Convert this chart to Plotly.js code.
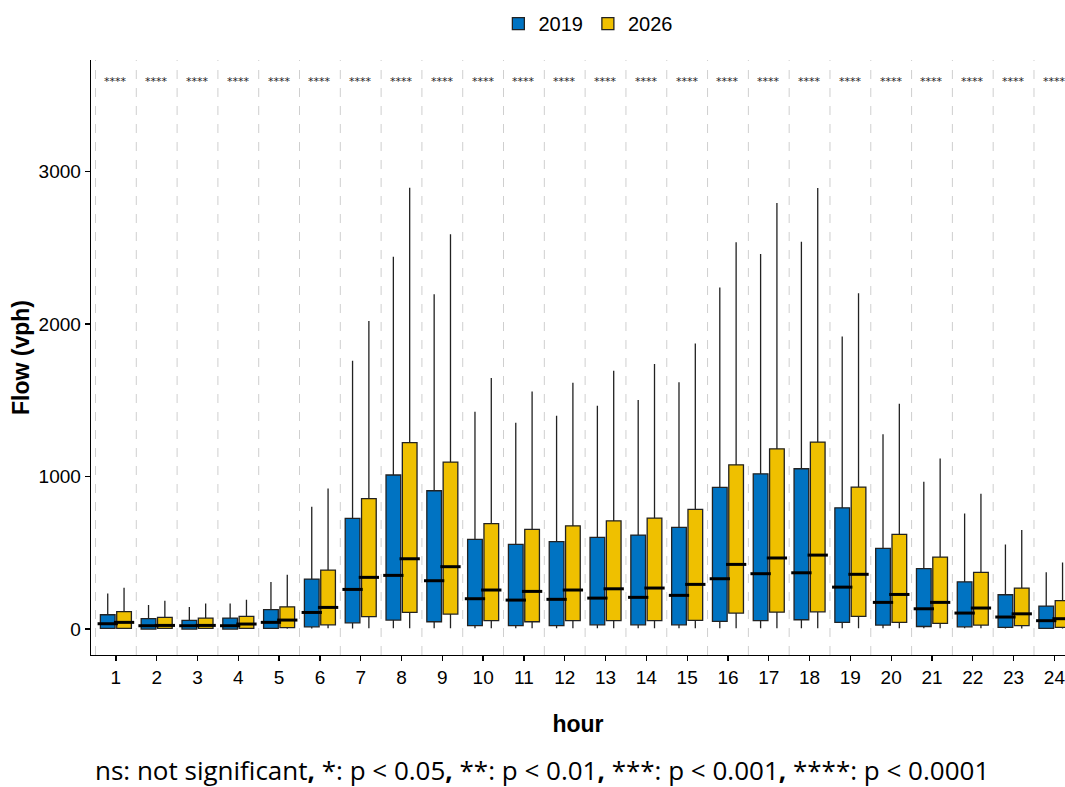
<!DOCTYPE html>
<html>
<head>
<meta charset="utf-8">
<script src="https://cdn.plot.ly/plotly-3.0.1.min.js"></script>
<style>html,body{margin:0;padding:0;background:#fff;}#chart{width:1065px;height:787px;}</style>
</head>
<body>
<div id="chart"></div>
<script>
// Categories
const hours = ["1","2","3","4","5","6","7","8","9","10","11","12","13","14","15","16","17","18","19","20","21","22","23","24"];

// 2019 box statistics (vph)
const q1_2019     = [5, 0, 0, 0, 5, 15, 41, 59, 48, 22, 22, 22, 28, 28, 28, 50, 55, 61, 44, 26, 17, 15, 11, 5];
const med_2019    = [35, 22, 22, 22, 44, 109, 260, 352, 317, 199, 190, 195, 203, 208, 221, 330, 363, 369, 275, 175, 133, 105, 79, 55];
const q3_2019     = [94, 68, 57, 72, 127, 328, 726, 1010, 907, 588, 555, 573, 601, 616, 667, 929, 1018, 1051, 795, 529, 396, 310, 225, 151];
const lo_2019     = [0, 0, 0, 0, 0, 3, 4, 5, 5, 5, 5, 5, 5, 5, 5, 5, 5, 5, 5, 5, 5, 5, 3, 2];
const hi_2019     = [234, 157, 144, 168, 308, 802, 1759, 2441, 2195, 1425, 1353, 1399, 1464, 1502, 1618, 2240, 2459, 2540, 1919, 1277, 966, 758, 555, 372];

// 2026 box statistics (vph)
const q1_2026     = [5, 5, 5, 5, 10, 28, 81, 109, 98, 55, 48, 55, 55, 55, 57, 105, 111, 113, 83, 44, 37, 26, 22, 11];
const med_2026    = [44, 24, 24, 33, 59, 142, 339, 461, 409, 256, 247, 256, 264, 269, 293, 424, 466, 485, 359, 227, 175, 138, 100, 68];
const q3_2026     = [114, 77, 72, 83, 146, 387, 855, 1222, 1095, 691, 654, 677, 710, 728, 785, 1077, 1182, 1226, 931, 621, 472, 372, 269, 186];
const lo_2026     = [0, 0, 0, 0, 2, 5, 5, 5, 5, 5, 5, 5, 5, 5, 5, 5, 5, 5, 5, 5, 5, 5, 4, 3];
const hi_2026     = [271, 186, 168, 192, 356, 922, 2020, 2894, 2588, 1646, 1558, 1615, 1694, 1738, 1873, 2536, 2793, 2892, 2201, 1478, 1119, 887, 649, 437];

// Significance labels
const sigLabels = ["****","****","****","****","****","****","****","****","****","****","****","****","****","****","****","****","****","****","****","****","****","****","****","****"];
const sigY = 3590;

const years = ["2019", "2026"];
const colors = {"2019": "#0073C2", "2026": "#EFC000"};
const stats = {
  "2019": {q1: q1_2019, med: med_2019, q3: q3_2019, lo: lo_2019, hi: hi_2019},
  "2026": {q1: q1_2026, med: med_2026, q3: q3_2026, lo: lo_2026, hi: hi_2026}
};

const traces = [];
years.forEach(y => {
  const s = stats[y];
  traces.push({
    type: "box",
    name: y,
    x: hours,
    q1: s.q1, median: s.med, q3: s.q3,
    lowerfence: s.lo, upperfence: s.hi,
    boxpoints: false,
    whiskerwidth: 0,
    fillcolor: colors[y],
    line: {color: "#222222", width: 1.3},
    offsetgroup: y,
    hoverinfo: "skip"
  });
});
// thick median bars
years.forEach(y => {
  traces.push({
    type: "scatter",
    mode: "markers",
    x: hours,
    y: stats[y].med,
    offsetgroup: y,
    showlegend: false,
    hoverinfo: "skip",
    marker: {symbol: "line-ew", size: 14.5, line: {color: "#000000", width: 3}}
  });
});

const shapes = [];
for (let i = 0; i <= hours.length; i++) {
  shapes.push({
    type: "line", xref: "x", yref: "paper",
    x0: i - 0.5, x1: i - 0.5, y0: 0, y1: 1,
    line: {color: "#cfcfcf", width: 1, dash: "dash"},
    layer: "below"
  });
}

const annotations = hours.map((h, i) => ({
  x: i, y: sigY, xref: "x", yref: "y",
  text: sigLabels[i], showarrow: false,
  font: {family: "DejaVu Sans, sans-serif", size: 11, color: "#222"}
}));
annotations.push({
  xref: "paper", yref: "paper", x: 0.463, y: -0.193,
  xanchor: "center", yanchor: "middle", showarrow: false,
  text: "ns: not significant<b>,</b> *: p &lt; 0.05<b>,</b> **: p &lt; 0.01<b>,</b> ***: p &lt; 0.001<b>,</b> ****: p &lt; 0.0001",
  font: {family: "Open Sans, Noto Sans, sans-serif", size: 26, color: "#000"}
});

const layout = {
  width: 1065, height: 787,
  margin: {l: 91, r: 0, t: 60, b: 132},
  paper_bgcolor: "#fff", plot_bgcolor: "#fff",
  font: {family: "Liberation Sans, Arial, sans-serif", color: "#000"},
  boxmode: "group", boxgap: 0.2, boxgroupgap: 0.1,
  scattermode: "group", scattergap: 0.2,
  showlegend: true,
  legend: {
    orientation: "h", xref: "container", yref: "container",
    x: 0.552, xanchor: "center", y: 0.97, yanchor: "middle",
    font: {size: 20, color: "#000"}, traceorder: "normal"
  },
  xaxis: {
    type: "category", categoryorder: "array", categoryarray: hours,
    range: [-0.61, 23.26],
    showline: true, linecolor: "#000", linewidth: 1.3,
    ticks: "outside", ticklen: 5, tickcolor: "#000", tickwidth: 1.3,
    showgrid: false, zeroline: false,
    tickfont: {size: 19, color: "#000"},
    title: {text: "<b>hour</b>", font: {size: 23, color: "#000"}, standoff: 28}
  },
  yaxis: {
    range: [-170, 3731],
    tickvals: [0, 1000, 2000, 3000],
    showline: true, linecolor: "#000", linewidth: 1.3,
    ticks: "outside", ticklen: 5, tickcolor: "#000", tickwidth: 1.3,
    showgrid: false, zeroline: false,
    tickfont: {size: 19, color: "#000"},
    title: {text: "<b>Flow (vph)</b>", font: {size: 23, color: "#000"}, standoff: 2}
  },
  shapes: shapes,
  annotations: annotations
};

Plotly.newPlot("chart", traces, layout, {displayModeBar: false, staticPlot: true});
</script>
</body>
</html>
